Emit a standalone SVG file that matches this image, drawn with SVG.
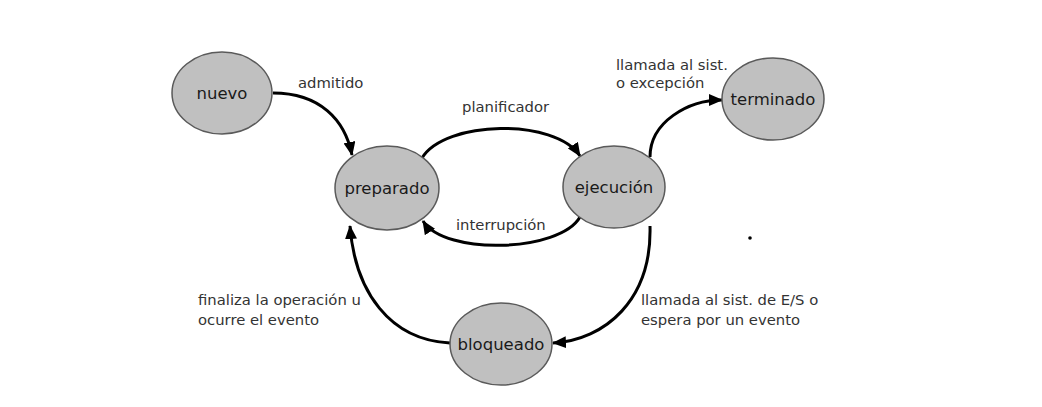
<svg xmlns="http://www.w3.org/2000/svg" width="1042" height="407" viewBox="0 0 1042 407">
<style>
.node ellipse{fill:#c0c0c0;stroke:#5a5a5a;stroke-width:1.5}
.node text{font-family:"DejaVu Sans",sans-serif;font-size:16.5px;fill:#1a1a1a;text-anchor:middle}
.edge{fill:none;stroke:#000;stroke-width:3;marker-end:url(#arr)}
.lbl{font-family:"DejaVu Sans",sans-serif;font-size:14.8px;fill:#333}
</style>
<defs>
<marker id="arr" viewBox="0 0 14 12" refX="13" refY="6" markerWidth="14" markerHeight="12" markerUnits="userSpaceOnUse" orient="auto">
<path d="M0,0 L14,6 L0,12 Z" fill="#000"/>
</marker>
</defs>
<rect width="1042" height="407" fill="#fff"/>
<g id="connectors">
<path class="edge" d="M273,93 C320,93 345,120 352,155"/>
<path class="edge" d="M422,158 C445,120 555,118 580,156"/>
<path class="edge" d="M580,217 C560,252 445,256 423,221"/>
<path class="edge" d="M650,157 C650,122 688,100 722,100"/>
<path class="edge" d="M650,226 C652,300 605,340 553,343"/>
<path class="edge" d="M450,343 C390,340 355,292 350,226"/>
</g>
<g id="labels">
<text class="lbl" x="298" y="88">admitido</text>
<text class="lbl" x="462" y="112">planificador</text>
<text class="lbl" x="456" y="230">interrupción</text>
<text class="lbl" x="616" y="70">llamada al sist.</text>
<text class="lbl" x="616" y="88">o excepción</text>
<text class="lbl" x="198" y="305">finaliza la operación u</text>
<text class="lbl" x="198" y="325">ocurre el evento</text>
<text class="lbl" x="641" y="305">llamada al sist. de E/S o</text>
<text class="lbl" x="641" y="325">espera por un evento</text>
</g>
<g id="nuevo" class="node"><ellipse cx="222" cy="93" rx="50" ry="41"/><text x="222" y="99">nuevo</text></g>
<g id="preparado" class="node"><ellipse cx="387" cy="188" rx="52" ry="42"/><text x="387" y="194">preparado</text></g>
<g id="ejecucion" class="node"><ellipse cx="614" cy="187" rx="51" ry="41"/><text x="614" y="193">ejecución</text></g>
<g id="terminado" class="node"><ellipse cx="773" cy="99" rx="51" ry="41"/><text x="773" y="105">terminado</text></g>
<g id="bloqueado" class="node"><ellipse cx="501" cy="344" rx="51" ry="41"/><text x="501" y="350">bloqueado</text></g>
<circle cx="750" cy="238" r="1.8" fill="#000"/>
</svg>
